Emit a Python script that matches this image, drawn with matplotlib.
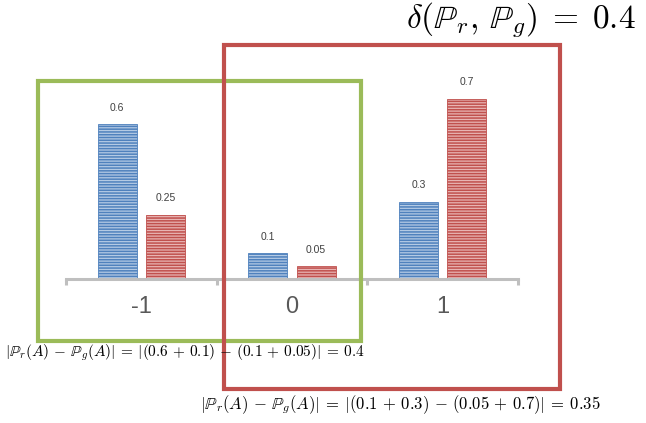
import matplotlib
matplotlib.use("Agg")
import matplotlib.pyplot as plt
from matplotlib.patches import Rectangle
import numpy as np

plt.rcParams['mathtext.fontset'] = 'cm'
plt.rcParams['hatch.linewidth'] = 1.1

categories = ['-1', '0', '1']
p_r = [0.6, 0.1, 0.3]
p_g = [0.25, 0.05, 0.7]
title_txt = r'$\delta(\mathbb{P}_r,\, \mathbb{P}_g) \;=\; 0.4$'
formula_left = r'$|\mathbb{P}_r(A) \,-\, \mathbb{P}_g(A)| \:=\: |(0.6 \,+\, 0.1) \,-\, (0.1 \,+\, 0.05)| \:=\: 0.4$'
formula_right = r'$|\mathbb{P}_r(A) \,-\, \mathbb{P}_g(A)| \:=\: |(0.1 \,+\, 0.3) \,-\, (0.05 \,+\, 0.7)| \:=\: 0.35$'

W, H = 646, 423
fig = plt.figure(figsize=(W / 100, H / 100), dpi=100)

# axes placed so the baseline sits where the reference has it
ax = fig.add_axes([66 / W, 144 / H, 452 / W, 206 / H])
x = np.arange(len(categories))
blue = '#4F81BD'
red = '#C0504D'

b1 = ax.bar(x - 0.16, p_r, 0.26, color='#B4CAE4', edgecolor=blue, hatch='------', linewidth=0.6)
b2 = ax.bar(x + 0.16, p_g, 0.26, color='#E8B4B3', edgecolor=red, hatch='------', linewidth=0.6)
for bars, vals in ((b1, p_r), (b2, p_g)):
    for b, v in zip(bars, vals):
        ax.text(b.get_x() + b.get_width() / 2, v + 0.045, f'{v:g}', ha='center', va='bottom',
                fontsize=7.5, color='#404040', family='Liberation Sans')

ax.set_xlim(-0.5, 2.5)
ax.set_ylim(0, 0.8)
for s in ['top', 'right', 'left']:
    ax.spines[s].set_visible(False)
ax.spines['bottom'].set_color('#BFBFBF')
ax.spines['bottom'].set_linewidth(2.2)
ax.set_yticks([])
ax.set_xticks(x)
ax.set_xticklabels(categories, fontsize=17, color='#595959', family='Liberation Sans')
ax.tick_params(axis='x', which='major', length=0, pad=12)
ax.set_xticks([-0.5, 0.5, 1.5, 2.5], minor=True)
ax.tick_params(axis='x', which='minor', length=4, width=2.2, color='#BFBFBF', direction='out')

# boxes in figure pixels
def box(x0, y0, x1, y1, col):
    fig.patches.append(Rectangle((x0 / W, 1 - y1 / H), (x1 - x0) / W, (y1 - y0) / H,
                                 transform=fig.transFigure, fill=False, edgecolor=col, linewidth=3))

box(38, 81, 361, 341, '#9BBB59')
box(224, 45, 560, 389, '#C0504D')

fig.text(636 / W, 1 - 20 / H, title_txt, ha='right', va='center', fontsize=24)
fig.text(5 / W, 1 - 353 / H, formula_left, ha='left', va='center', fontsize=11)
fig.text(200 / W, 1 - 405 / H, formula_right, ha='left', va='center', fontsize=12)

fig.savefig('out.png', dpi=100)
